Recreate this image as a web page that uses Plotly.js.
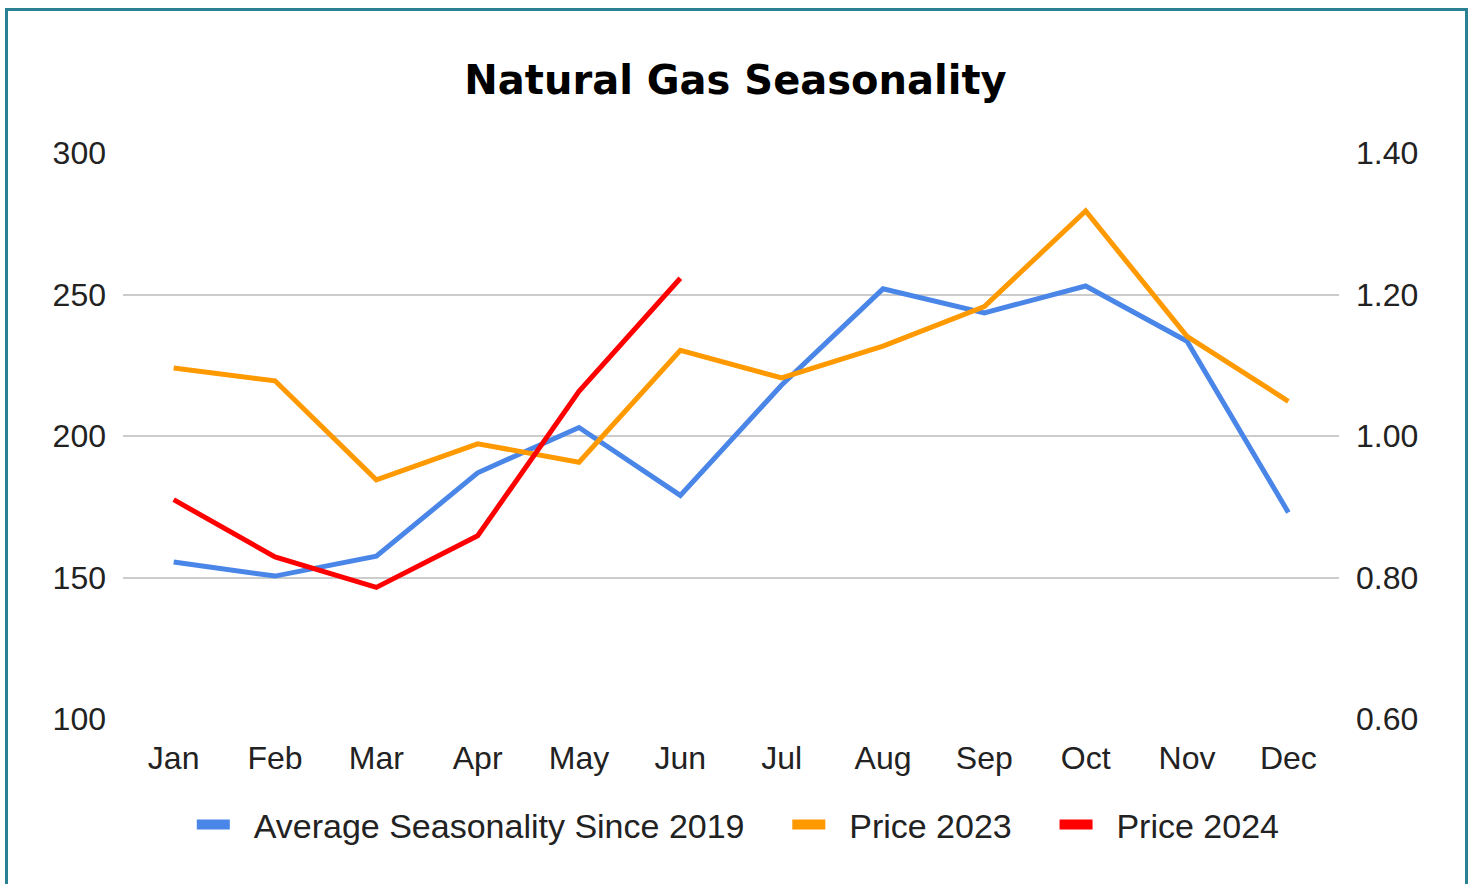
<!DOCTYPE html>
<html>
<head>
<meta charset="utf-8">
<script src="https://cdn.plot.ly/plotly-3.0.1.min.js"></script>
<style>
  html, body { margin: 0; padding: 0; background: #ffffff; }
  #chart { width: 1471px; height: 884px; }
  #frame { position: absolute; left: 5px; top: 8px; width: 1463px; height: 900px;
           border: 3px solid #2a8193; pointer-events: none; box-sizing: border-box; }
</style>
</head>
<body>
<div id="chart"></div>
<div id="frame"></div>
<script>
const months = ["Jan","Feb","Mar","Apr","May","Jun","Jul","Aug","Sep","Oct","Nov","Dec"];
const avgSeasonality = [155.5, 150.5, 157.5, 187, 203, 179, 218, 252, 243.5, 253, 233.5, 173];
const price2023 = [1.096, 1.078, 0.938, 0.989, 0.963, 1.121, 1.082, 1.127, 1.183, 1.318, 1.141, 1.049];
const price2024 = [0.910, 0.829, 0.786, 0.859, 1.063, 1.223];
const months2024 = months.slice(0, price2024.length);

const names = ["Average Seasonality Since 2019", "Price 2023", "Price 2024"];
const colors = ["#4a86e8", "#ff9900", "#ff0000"];

const traces = [
  {x: months, y: avgSeasonality, type: "scatter", mode: "lines", yaxis: "y",
   line: {color: colors[0], width: 5}, showlegend: false, name: names[0]},
  {x: months, y: price2023, type: "scatter", mode: "lines", yaxis: "y2",
   line: {color: colors[1], width: 5}, showlegend: false, name: names[1]},
  {x: months2024, y: price2024, type: "scatter", mode: "lines", yaxis: "y2",
   line: {color: colors[2], width: 5}, showlegend: false, name: names[2]}
];
// legend entries (thick swatches like the original)
const NB = "\u00a0";
names.forEach((n, i) => traces.push({
  x: [null], y: [null], type: "scatter", mode: "lines",
  name: NB + NB + n + (i < names.length - 1 ? NB.repeat(4) : ""),
  line: {color: colors[i], width: 10}, showlegend: true, hoverinfo: "skip"
}));

const tickFont = {family: "Liberation Sans, Arial, sans-serif", size: 32, color: "#222222"};

const layout = {
  width: 1471, height: 884,
  paper_bgcolor: "#ffffff", plot_bgcolor: "#ffffff",
  margin: {l: 123, r: 132, t: 153, b: 165},
  title: {text: "<b>Natural Gas Seasonality</b>", x: 0.5, xanchor: "center",
          y: 0.909, yanchor: "middle", yref: "container",
          font: {family: "DejaVu Sans, Verdana, sans-serif", size: 40, color: "#000000"}},
  xaxis: {type: "category", categoryarray: months, range: [-0.5, 11.5],
          showgrid: false, zeroline: false, showline: false, ticks: "",
          tickfont: tickFont, ticklabelstandoff: 17},
  yaxis: {range: [100, 300], dtick: 50, tick0: 100, showgrid: true, gridcolor: "#cccccc",
          gridwidth: 2, zeroline: false, showline: false, ticks: "",
          tickfont: tickFont, ticklabelstandoff: 16},
  yaxis2: {range: [0.6, 1.4], dtick: 0.2, tick0: 0.6, tickformat: ".2f", overlaying: "y",
           side: "right", showgrid: false, zeroline: false, showline: false, ticks: "",
           tickfont: tickFont, ticklabelstandoff: 16},
  legend: {orientation: "h", x: 0.506, xanchor: "center", y: -0.187, yanchor: "middle",
           font: {family: "Liberation Sans, Arial, sans-serif", size: 34, color: "#222222"},
           itemwidth: 33, tracegroupgap: 0},
  showlegend: true
};

Plotly.newPlot("chart", traces, layout, {displayModeBar: false, staticPlot: true});
</script>
</body>
</html>
